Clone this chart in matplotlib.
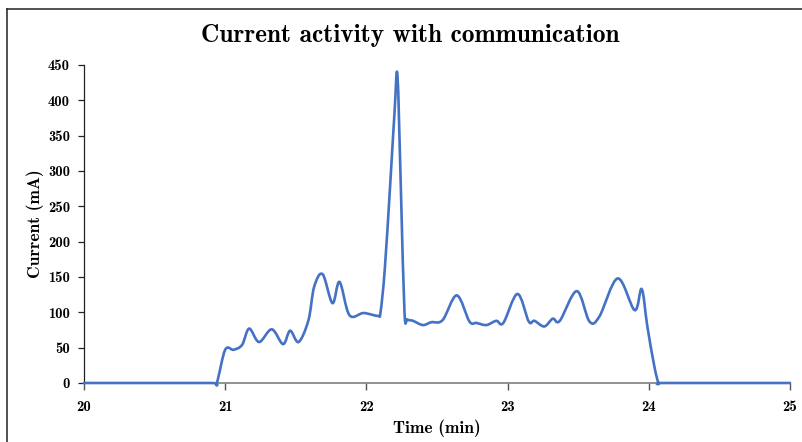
import matplotlib
matplotlib.use("Agg")
import matplotlib.pyplot as plt
from matplotlib.path import Path
from matplotlib.patches import PathPatch
from matplotlib.lines import Line2D

# values
time_min = [20.0, 20.45, 20.9, 20.94, 21.0, 21.06, 21.12, 21.17, 21.24, 21.33,
            21.41, 21.46, 21.52, 21.59, 21.63, 21.69, 21.76, 21.81, 21.88, 21.98,
            22.08, 22.10, 22.13, 22.17, 22.20, 22.22, 22.245, 22.27, 22.29, 22.33,
            22.40, 22.46, 22.54, 22.64, 22.73, 22.78, 22.85, 22.92, 22.97, 23.07,
            23.15, 23.19, 23.26, 23.32, 23.37, 23.49, 23.58, 23.65, 23.78, 23.90,
            23.95, 23.99, 24.04, 24.07, 24.1, 24.55, 25.0]
current_ma = [0, 0, 0, 0, 47, 47, 54, 77, 58, 76,
              55, 74, 58, 89, 136, 154, 113, 143, 96, 99,
              95, 100, 160, 285, 385, 436, 270, 100, 90, 88,
              82, 86, 89, 124, 87, 85, 82, 88, 85, 126,
              87, 88, 80, 91, 88, 130, 87, 94, 148, 103,
              133, 80, 23, 0, 0, 0, 0]

x_ticks = [20, 21, 22, 23, 24, 25]
y_ticks = [0, 50, 100, 150, 200, 250, 300, 350, 400, 450]

title = "Current activity with communication"
x_label = "Time (min)"
y_label = "Current (mA)"

font = "cmb10"
blue = "#4472C4"


def smooth_path(xs, ys):
    # smoothed line like a spreadsheet chart (cubic bezier through the points)
    n = len(xs)
    verts = [(xs[0], ys[0])]
    codes = [Path.MOVETO]
    for i in range(n - 1):
        x0, y0 = (xs[i - 1], ys[i - 1]) if i > 0 else (xs[i], ys[i])
        x1, y1 = xs[i], ys[i]
        x2, y2 = xs[i + 1], ys[i + 1]
        x3, y3 = (xs[i + 2], ys[i + 2]) if i + 2 < n else (x2, y2)
        c1 = (x1 + (x2 - x0) / 6, y1 + (y2 - y0) / 6)
        c2 = (x2 - (x3 - x1) / 6, y2 - (y3 - y1) / 6)
        verts += [c1, c2, (x2, y2)]
        codes += [Path.CURVE4] * 3
    return Path(verts, codes)


fig = plt.figure(figsize=(8.02, 4.42), dpi=100)
ax = fig.add_axes([0.1047, 0.1335, 0.8803, 0.7195])

patch = PathPatch(smooth_path(time_min, current_ma), facecolor="none",
                  edgecolor=blue, lw=1.9, clip_on=False, zorder=3,
                  capstyle="round", joinstyle="round")
ax.add_patch(patch)

ax.set_xlim(20, 25)
ax.set_ylim(0, 450)
ax.set_xticks(x_ticks)
ax.set_yticks(y_ticks)
ax.set_xticklabels([str(t) for t in x_ticks], family=font, fontsize=10.5)
ax.set_yticklabels([str(t) for t in y_ticks], family=font, fontsize=10.5)

for side in ["top", "right"]:
    ax.spines[side].set_visible(False)
ax.spines["left"].set_color("#222222")
ax.spines["left"].set_linewidth(0.9)
ax.spines["bottom"].set_color("#7f7f7f")
ax.spines["bottom"].set_linewidth(1.2)
ax.tick_params(axis="y", direction="out", length=4, width=0.9, color="#222222", pad=6)
ax.tick_params(axis="x", direction="out", length=5, width=1.0, color="#555555", pad=7)

ax.set_xlabel(x_label, family=font, fontsize=12.5, labelpad=4)
ax.set_ylabel(y_label, family=font, fontsize=12.5, labelpad=3)

fig.text(410 / 802, 1 - 35.5 / 442, title, family=font, fontsize=18.3,
         ha="center", va="center")

# frame of the original figure (cropped on the right and bottom)
fig.add_artist(Line2D([7 / 802, 7 / 802], [0, 1 - 9 / 442], transform=fig.transFigure,
                      color="#222222", lw=1.1))
fig.add_artist(Line2D([7 / 802, 1], [1 - 9 / 442, 1 - 9 / 442], transform=fig.transFigure,
                      color="#222222", lw=1.1))

fig.savefig("out.png", dpi=100)
